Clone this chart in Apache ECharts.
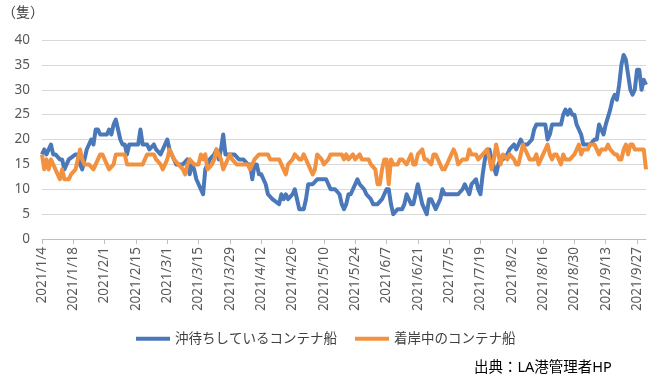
<!DOCTYPE html>
<html><head><meta charset="utf-8">
<script src="https://cdn.jsdelivr.net/npm/echarts@6/dist/echarts.min.js"></script>
<style>html,body{margin:0;padding:0;background:#fff}#c{width:663px;height:378px}</style>
</head><body><div id="c"></div>
<script>
// Day index counted from 2021/1/4
const tickLabels = ["2021/1/4","2021/1/18","2021/2/1","2021/2/15","2021/3/1","2021/3/15","2021/3/29","2021/4/12","2021/4/26","2021/5/10","2021/5/24","2021/6/7","2021/6/21","2021/7/5","2021/7/19","2021/8/2","2021/8/16","2021/8/30","2021/9/13","2021/9/27"];
const seriesNames = ["沖待ちしているコンテナ船","着岸中のコンテナ船"];

const blueDays = [0,1,2,4,5,6,8,9,10,11,12,15,16,17,18,19,20,21,22,23,24,25,26,29,30,31,32,33,34,35,36,37,38,39,43,44,45,47,48,50,51,53,54,56,57,59,60,62,63,65,66,67,68,69,71,72,73,74,75,77,78,79,80,81,82,83,86,88,90,92,93,94,95,96,97,98,99,100,101,103,106,107,108,109,110,112,113,114,115,117,118,119,121,123,126,127,129,131,133,134,135,136,137,138,139,141,142,144,145,147,148,150,152,153,154,155,156,157,159,161,162,163,165,166,167,168,169,170,172,173,174,175,176,178,179,180,186,188,189,190,191,192,194,195,196,197,198,199,200,201,203,204,205,206,208,209,211,212,213,214,215,217,219,220,221,223,225,226,227,228,232,233,234,235,236,237,238,239,240,241,242,243,245,247,248,249,250,251,252,254,255,256,257,258,259,260,261,262,263,264,265,266,267,268,269,270];
const blueVals = [17,18,17,19,17,17,16,16,14,15,16,17,17,15,14,16,18,19,20,19,22,22,21,21,22,21,23,24,22,20,19,19,17,19,19,22,19,19,18,19,18,17,18,20,18,16,15,15,15,16,13,15,14,12,10,9,14,15,16,17,18,16,18,21,17,17,17,16,16,15,15,12,15,15,13,13,12,11,9,8,7,9,8,9,8,9,10,8,6,6,8,11,11,12,12,12,10,10,9,7,6,7,9,9,10,12,11,10,9,8,7,7,8,9,10,10,7,5,6,6,7,9,7,7,9,11,9,7,5,8,8,7,6,8,10,9,9,10,11,10,9,11,12,10,9,13,16,18,18,16,13,15,16,16,17,18,19,18,19,20,19,19,20,22,23,23,23,20,21,23,23,25,26,25,26,25,25,23,22,21,19,19,19,20,20,23,22,21,23,26,28,29,28,31,35,37,36,33,30,29,30,34,34,30,32,31];

const orangeDays = [0,1,2,3,4,5,6,7,8,9,10,12,13,15,16,17,18,19,21,23,24,26,27,29,30,32,33,37,38,41,45,47,50,51,53,54,56,57,59,61,63,64,65,66,68,70,71,72,73,74,76,77,78,80,81,83,84,85,87,89,92,93,95,97,99,101,102,106,107,109,110,112,113,115,116,117,118,119,121,122,123,125,126,128,129,131,133,134,135,136,137,139,140,142,143,145,146,147,149,150,151,152,153,154,155,156,157,159,160,161,163,165,166,167,168,170,171,172,174,175,176,177,179,180,181,183,184,185,186,188,190,191,192,194,195,197,199,200,201,202,203,204,205,206,208,209,211,212,213,214,215,216,217,218,220,221,222,223,224,225,226,227,228,229,230,231,232,233,234,236,238,239,240,241,242,244,245,247,248,249,250,252,253,254,256,257,258,259,260,261,262,263,264,265,267,269,270];
const orangeVals = [17,14,16,14,16,15,14,13,12,14,12,12,13,14,16,18,16,15,15,14,15,17,17,15,14,15,17,17,15,15,15,17,17,16,15,14,16,18,16,15,14,13,15,16,15,15,17,16,17,14,15,16,18,16,14,16,17,16,15,15,15,14,16,17,17,17,16,16,15,13,15,16,17,16,16,17,16,15,13,14,17,16,15,16,17,17,17,17,16,17,16,17,16,17,16,16,16,15,14,11,11,14,16,16,11,16,15,15,16,16,15,17,15,15,17,18,16,16,15,17,17,16,14,14,15,17,18,17,15,16,16,18,17,17,16,17,18,16,14,16,19,17,15,17,16,17,16,15,15,17,19,18,17,16,16,17,15,16,17,18,19,17,16,17,17,16,15,17,16,16,17,18,19,17,18,18,19,19,18,17,18,18,19,18,17,17,16,16,18,19,17,19,19,18,18,18,14];

function pairs(d, v){ return d.map((x,i)=>[x, v[i]]); }
const tickValues = tickLabels.map((_,i)=>i*14);

const font = '"Noto Sans","Noto Sans CJK JP",sans-serif';
const chart = echarts.init(document.getElementById('c'), null, {renderer:'canvas'});
chart.setOption({
  animation:false,
  backgroundColor:'#ffffff',
  textStyle:{fontFamily:font},
  grid:{left:42,right:17,top:40,bottom:139},
  legend:{
    left:136, top:332, padding:0, icon:'rect', itemWidth:34, itemHeight:4, itemGap:18,
    textStyle:{fontSize:13.5,color:'#404040',fontFamily:font},
    data:seriesNames
  },
  graphic:[
    {type:'text',left:2,top:6,style:{text:'（隻）',fontSize:14,fill:'#404040',fontFamily:font}},
    {type:'text',left:474,top:361,style:{text:'出典：LA港管理者HP',fontSize:14.5,fill:'#000000',fontFamily:font}}
  ],
  xAxis:{
    type:'value', min:0, max:270, interval:14,
    axisLine:{show:true,lineStyle:{color:'#bfbfbf',width:1}},
    axisTick:{show:true,length:5,customValues:tickValues,lineStyle:{color:'#bfbfbf'}},
    splitLine:{show:false},
    axisLabel:{
      customValues:tickValues, rotate:90, margin:8, fontSize:13.5, color:'#595959', fontFamily:font,
      formatter:function(v){ return tickLabels[Math.round(v/14)]; }
    }
  },
  yAxis:{
    type:'value', min:0, max:40, interval:5,
    axisLine:{show:false}, axisTick:{show:false},
    splitLine:{lineStyle:{color:'#d9d9d9',width:1}},
    axisLabel:{fontSize:13.5,color:'#595959',margin:12,fontFamily:font}
  },
  series:[
    {name:seriesNames[0],type:'line',data:pairs(blueDays,blueVals),showSymbol:false,symbol:'none',
     lineStyle:{color:'#4a78b8',width:4,join:'round'},itemStyle:{color:'#4a78b8'}},
    {name:seriesNames[1],type:'line',data:pairs(orangeDays,orangeVals),showSymbol:false,symbol:'none',
     lineStyle:{color:'#f29140',width:4,join:'round'},itemStyle:{color:'#f29140'}}
  ]
});
</script></body></html>
